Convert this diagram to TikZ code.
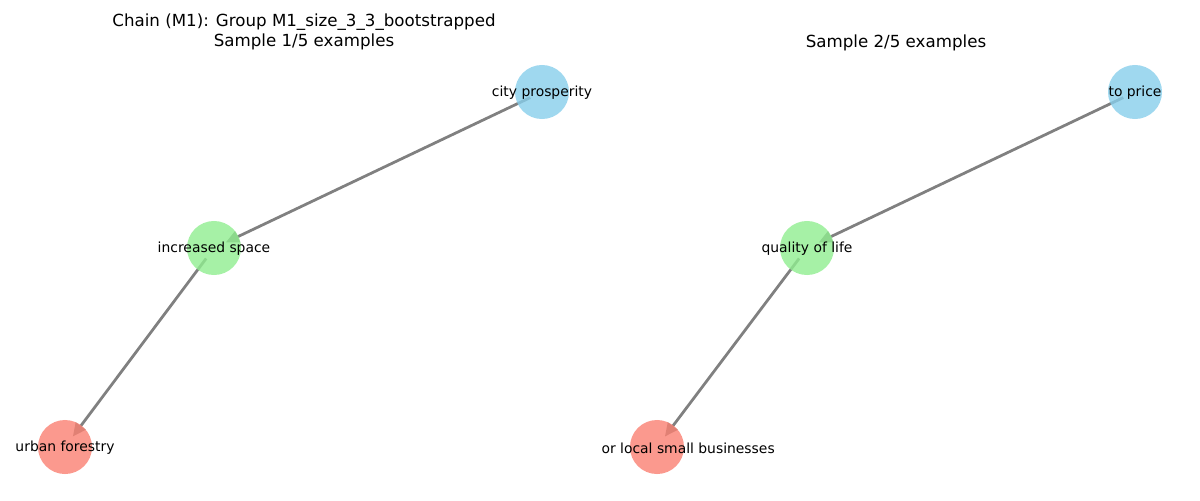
\documentclass[tikz,border=0pt]{standalone}
\usepackage{fontspec}
\setmainfont{DejaVu Sans}
\usepackage{tikz}
\usetikzlibrary{arrows.meta}

\definecolor{nodered}{HTML}{FA8072}
\definecolor{nodegreen}{HTML}{90EE90}
\definecolor{nodeblue}{HTML}{87CEEB}
\definecolor{edgegray}{HTML}{808080}

\tikzset{
  vertex/.style={circle,inner sep=0pt,minimum size=38.9pt,fill opacity=0.8,draw=none},
  edge/.style={edgegray,line width=2pt,-{Triangle[length=9.5pt,width=8.5pt]},
               shorten <=9.4pt,shorten >=9.4pt},
  vlabel/.style={font=\fontsize{10}{12}\selectfont,inner sep=0pt},
  ptitle/.style={font=\fontsize{12}{14.4}\selectfont,align=center,inner sep=0pt}
}

\begin{document}
\begin{tikzpicture}[x=0.72pt,y=-0.72pt]
  \useasboundingbox (0,0) rectangle (1200,500);

% node centres
  \coordinate (forestry)   at (65,447);
  \coordinate (space)      at (214,248);
  \coordinate (prosperity) at (542,92);
  \coordinate (business)   at (657,447);
  \coordinate (life)       at (807,248);
  \coordinate (price)      at (1135,92);

% titles
  \node[ptitle] (titleL) at (304,32) {Chain (M1): Group M1\_size\_3\_3\_bootstrapped\\Sample 1/5 examples};
  \node[ptitle] (titleR) at (896,43) {Sample 2/5 examples};

% chains
  \draw[edge] (prosperity) -- (space);
  \draw[edge] (space) -- (forestry);
  \draw[edge] (price) -- (life);
  \draw[edge] (life) -- (business);

% circles
  \node[vertex,fill=nodered]   (forestryC)   at (forestry) {};
  \node[vertex,fill=nodegreen] (spaceC)      at (space) {};
  \node[vertex,fill=nodeblue]  (prosperityC) at (prosperity) {};
  \node[vertex,fill=nodered]   (businessC)   at (business) {};
  \node[vertex,fill=nodegreen] (lifeC)       at (life) {};
  \node[vertex,fill=nodeblue]  (priceC)      at (price) {};

% labels
  \node[vlabel] (forestryT)   at (65,448) {urban forestry};
  \node[vlabel] (spaceT)      at (214,249) {increased space};
  \node[vlabel] (prosperityT) at (542,93) {city prosperity};
  \node[vlabel,anchor=east] (businessT) at (775,448) {or local small businesses};
  \node[vlabel] (lifeT)       at (807,249) {quality of life};
  \node[vlabel] (priceT)      at (1135,93) {to price};

\end{tikzpicture}
\end{document}
